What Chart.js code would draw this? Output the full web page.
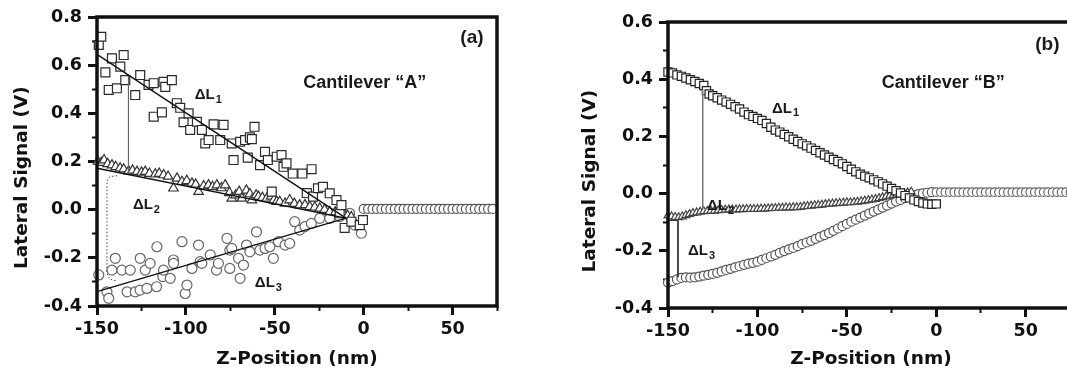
<!DOCTYPE html>
<html>
<head>
<meta charset="utf-8">
<script src="https://cdn.jsdelivr.net/npm/chart.js@4.4.0/dist/chart.umd.min.js"></script>
<style>
  html, body { margin: 0; padding: 0; background: #fff; overflow: hidden; }
  #wrap { position: relative; width: 1067px; height: 377px; overflow: hidden; }
  canvas { position: absolute; top: 0; }
</style>
</head>
<body>
<div id="wrap">
  <canvas id="chartA" width="510" height="377" style="left:0"></canvas>
  <canvas id="chartB" width="514" height="377" style="left:570px"></canvas>
</div>
<script>
// ticks
const xTicks = [-150, -125, -100, -75, -50, -25, 0, 25, 50, 75];
const aYTicks = [-0.4, -0.3, -0.2, -0.1, 0, 0.1, 0.2, 0.3, 0.4, 0.5, 0.6, 0.7, 0.8];
const bYTicks = [-0.4, -0.3, -0.2, -0.1, 0, 0.1, 0.2, 0.3, 0.4, 0.5, 0.6];

// Cantilever "A" (a): [z, signal]
const aL1 = [
  [-149.0, 0.684], [-147.6, 0.718], [-145.3, 0.570], [-143.4, 0.497], [-141.6, 0.628],
  [-138.8, 0.504], [-136.9, 0.594], [-135.0, 0.642], [-134.1, 0.538], [-128.5, 0.476],
  [-125.7, 0.559], [-121.0, 0.518], [-118.1, 0.525], [-118.1, 0.386], [-113.5, 0.404],
  [-112.6, 0.531], [-111.6, 0.510], [-107.9, 0.538], [-105.1, 0.442], [-103.2, 0.423],
  [-101.3, 0.363], [-98.5, 0.400], [-97.6, 0.331], [-93.8, 0.365], [-91.0, 0.331],
  [-89.1, 0.275], [-87.2, 0.289], [-84.4, 0.354], [-80.7, 0.289], [-78.8, 0.352],
  [-74.2, 0.275], [-73.2, 0.206], [-69.5, 0.282], [-66.7, 0.289], [-65.2, 0.216],
  [-64.0, 0.300], [-62.9, 0.293], [-61.4, 0.344], [-58.3, 0.185], [-55.5, 0.240],
  [-53.9, 0.206], [-51.7, 0.075], [-48.9, 0.220], [-46.2, 0.227], [-45.1, 0.178],
  [-43.4, 0.192], [-39.9, 0.150], [-34.5, 0.150], [-32.0, 0.069], [-29.3, 0.168],
  [-28.5, 0.054], [-25.7, 0.089], [-22.9, 0.095], [-19.1, 0.068], [-15.3, 0.040],
  [-13.5, -0.015], [-12.5, 0.019], [-10.7, -0.076], [-6.9, -0.050], [-2.2, -0.064],
  [-0.4, -0.043]
];
const aL2 = [
  [-149.5, 0.200], [-147.5, 0.195], [-146.0, 0.206], [-144.0, 0.190], [-141.6, 0.185],
  [-139.5, 0.178], [-137.0, 0.172], [-135.0, 0.168], [-132.2, 0.160], [-130.0, 0.163],
  [-127.5, 0.158], [-125.0, 0.155], [-122.9, 0.158], [-120.5, 0.150], [-117.2, 0.147],
  [-115.0, 0.150], [-112.5, 0.144], [-110.0, 0.138], [-107.0, 0.089], [-105.0, 0.130],
  [-102.2, 0.116], [-99.5, 0.120], [-96.6, 0.109], [-94.5, 0.105], [-92.9, 0.075],
  [-90.0, 0.098], [-87.3, 0.102], [-85.0, 0.095], [-82.6, 0.102], [-80.0, 0.090],
  [-77.9, 0.102], [-75.5, 0.070], [-74.2, 0.047], [-72.0, 0.060], [-70.0, 0.075],
  [-68.5, 0.047], [-66.0, 0.080], [-64.0, 0.065], [-62.9, 0.040], [-60.5, 0.060],
  [-59.2, 0.054], [-57.0, 0.050], [-54.5, 0.047], [-52.0, 0.055], [-50.5, 0.040],
  [-48.9, 0.033], [-47.2, 0.033], [-44.2, 0.026], [-41.6, 0.040], [-39.0, 0.025],
  [-36.0, 0.019], [-33.0, 0.020], [-30.3, 0.012], [-27.5, 0.010], [-24.7, 0.005],
  [-22.0, 0.000], [-19.1, -0.009], [-16.0, -0.010], [-13.5, -0.015], [-11.0, -0.020],
  [-9.0, -0.025], [-7.0, -0.030]
];
const aL3 = [
  [-149.0, -0.271], [-144.4, -0.341], [-143.4, -0.368], [-141.6, -0.251], [-139.7, -0.202],
  [-136.0, -0.251], [-133.1, -0.341], [-131.3, -0.251], [-128.5, -0.341], [-125.8, -0.334],
  [-125.7, -0.202], [-122.9, -0.251], [-121.9, -0.327], [-120.1, -0.223], [-116.5, -0.320],
  [-116.3, -0.154], [-113.0, -0.278], [-112.6, -0.251], [-108.8, -0.285], [-107.0, -0.209],
  [-106.9, -0.223], [-102.2, -0.133], [-100.4, -0.348], [-99.4, -0.313], [-96.6, -0.244],
  [-92.9, -0.147], [-92.0, -0.216], [-91.0, -0.223], [-86.3, -0.188], [-82.8, -0.251],
  [-81.7, -0.223], [-76.9, -0.119], [-75.3, -0.244], [-75.3, -0.168], [-74.2, -0.161],
  [-70.4, -0.202], [-69.5, -0.285], [-67.6, -0.230], [-65.9, -0.147], [-64.0, -0.175],
  [-60.3, -0.092], [-58.4, -0.168], [-55.5, -0.161], [-52.8, -0.154], [-50.8, -0.202],
  [-47.9, -0.133], [-44.2, -0.147], [-41.6, -0.140], [-38.8, -0.050], [-36.0, -0.085],
  [-33.0, -0.070], [-29.4, -0.057], [-24.7, -0.036], [-19.1, -0.036], [-13.5, -0.029],
  [-7.9, -0.015], [-5.0, -0.064], [-1.3, -0.098]
];
const aApproach = [
  [0, 0.003], [2.5, 0.003], [5, 0.003], [7.5, 0.003], [10, 0.003], [12.5, 0.003],
  [15, 0.003], [17.5, 0.003], [20, 0.003], [22.5, 0.003], [25, 0.003], [27.5, 0.003],
  [30, 0.003], [32.5, 0.003], [35, 0.003], [37.5, 0.003], [40, 0.003], [42.5, 0.003],
  [45, 0.003], [47.5, 0.003], [50, 0.003], [52.5, 0.003], [55, 0.003], [57.5, 0.003],
  [60, 0.003], [62.5, 0.003], [65, 0.003], [67.5, 0.003], [70, 0.003], [72.5, 0.003]
];
const aFit1 = [[-150, 0.645], [-10, -0.035]];
const aFit2 = [[-150, 0.172], [-10, -0.035]];
const aFit3 = [[-150, -0.340], [-10, -0.035]];
const aMark1 = [[-132.3, 0.556], [-132.3, 0.150]];
const aMark2 = [[-138.8, 0.141], [-142.8, 0.137], [-144.4, 0.118], [-144.4, -0.265], [-142.8, -0.288], [-138.8, -0.297]];

// Cantilever "B" (b)
const bL1 = [
  [-150, 0.425], [-147.5, 0.422], [-145, 0.415], [-142.5, 0.410], [-140, 0.404],
  [-137.5, 0.398], [-135, 0.392], [-132.5, 0.385], [-130, 0.378], [-128.5, 0.360],
  [-127, 0.348], [-125, 0.342], [-122.5, 0.335], [-120, 0.327], [-117.5, 0.320],
  [-115, 0.312], [-112.5, 0.304], [-110, 0.296], [-107.5, 0.285], [-105, 0.276],
  [-102.5, 0.270], [-100, 0.263], [-97.5, 0.256], [-95, 0.245], [-92.5, 0.232],
  [-90, 0.222], [-87.5, 0.215], [-85, 0.207], [-82.5, 0.199], [-80, 0.190],
  [-77.5, 0.182], [-75, 0.174], [-72.5, 0.167], [-70, 0.159], [-67.5, 0.151],
  [-65, 0.143], [-62.5, 0.135], [-60, 0.127], [-57.5, 0.119], [-55, 0.112],
  [-52.5, 0.104], [-50, 0.095], [-47.5, 0.085], [-45, 0.076], [-42.5, 0.068],
  [-40, 0.061], [-37.5, 0.055], [-35, 0.048], [-32.5, 0.041], [-30, 0.034],
  [-27.5, 0.026], [-25, 0.018], [-22.5, 0.010], [-20, 0.002], [-17.5, -0.007],
  [-15, -0.015], [-12.5, -0.022], [-10, -0.028], [-7.5, -0.033], [-5, -0.036],
  [-2.5, -0.037], [0, -0.036]
];
const bL2 = [
  [-150, -0.077], [-148, -0.080], [-146, -0.082], [-144, -0.083], [-142, -0.080],
  [-140, -0.076], [-138, -0.072], [-136, -0.068], [-134, -0.066], [-132, -0.064],
  [-130, -0.062], [-128, -0.061], [-126, -0.060], [-124, -0.060], [-122, -0.059],
  [-120, -0.058], [-118, -0.057], [-116, -0.056], [-114, -0.056], [-112, -0.056],
  [-110, -0.055], [-108, -0.055], [-106, -0.054], [-104, -0.054], [-102, -0.054],
  [-100, -0.054], [-98, -0.053], [-96, -0.053], [-94, -0.052], [-92, -0.051],
  [-90, -0.051], [-88, -0.050], [-86, -0.050], [-84, -0.049], [-82, -0.049],
  [-80, -0.048], [-78, -0.048], [-76, -0.047], [-74, -0.045], [-72, -0.044],
  [-70, -0.043], [-68, -0.041], [-66, -0.040], [-64, -0.039], [-62, -0.037],
  [-60, -0.036], [-58, -0.035], [-56, -0.034], [-54, -0.033], [-52, -0.032],
  [-50, -0.031], [-48, -0.031], [-46, -0.030], [-44, -0.029], [-42, -0.027],
  [-40, -0.025], [-38, -0.023], [-36, -0.021], [-34, -0.019], [-32, -0.016],
  [-30, -0.013], [-28, -0.010], [-26, -0.008], [-24, -0.005], [-22, -0.003],
  [-20, -0.001], [-18, 0.001], [-16, 0.004], [-14, 0.006]
];
const bL3 = [
  [-150, -0.311], [-147.5, -0.306], [-145, -0.300], [-142.5, -0.295], [-140, -0.293],
  [-137.5, -0.294], [-135, -0.293], [-132.5, -0.290], [-130, -0.287], [-127.5, -0.284],
  [-125, -0.281], [-122.5, -0.277], [-120, -0.272], [-117.5, -0.267], [-115, -0.263],
  [-112.5, -0.258], [-110, -0.254], [-107.5, -0.249], [-105, -0.245], [-102.5, -0.242],
  [-100, -0.238], [-97.5, -0.232], [-95, -0.226], [-92.5, -0.220], [-90, -0.214],
  [-87.5, -0.207], [-85, -0.201], [-82.5, -0.195], [-80, -0.190], [-77.5, -0.184],
  [-75, -0.177], [-72.5, -0.171], [-70, -0.165], [-67.5, -0.158], [-65, -0.151],
  [-62.5, -0.145], [-60, -0.138], [-57.5, -0.130], [-55, -0.122], [-52.5, -0.114],
  [-50, -0.106], [-47.5, -0.098], [-45, -0.091], [-42.5, -0.084], [-40, -0.077],
  [-37.5, -0.070], [-35, -0.063], [-32.5, -0.056], [-30, -0.049], [-27.5, -0.042],
  [-25, -0.035], [-22.5, -0.028], [-20, -0.022], [-17.5, -0.016], [-15, -0.011],
  [-12.5, -0.006], [-10, -0.002], [-7.5, 0.001], [-5, 0.003], [-2.5, 0.005]
];
const bApproach = [
  [0, 0.005], [2.5, 0.005], [5, 0.005], [7.5, 0.005], [10, 0.005], [12.5, 0.005],
  [15, 0.005], [17.5, 0.005], [20, 0.005], [22.5, 0.005], [25, 0.005], [27.5, 0.005],
  [30, 0.005], [32.5, 0.005], [35, 0.005], [37.5, 0.005], [40, 0.005], [42.5, 0.005],
  [45, 0.005], [47.5, 0.005], [50, 0.005], [52.5, 0.005], [55, 0.005], [57.5, 0.005],
  [60, 0.005], [62.5, 0.005], [65, 0.005], [67.5, 0.005], [70, 0.005], [72.5, 0.005],
  [75, 0.005]
];
const bMark1 = [[-130.6, 0.365], [-130.6, -0.052]];
const bMark3 = [[-150, -0.094], [-144.4, -0.094], [-144.4, -0.292]];

const pts = arr => arr.map(([x, y]) => ({ x, y }));

const tickFont = { family: 'DejaVu Sans', weight: 'bold', size: 17.5 };
const titleFont = { family: 'DejaVu Sans', weight: 'bold', size: 18.5 };

// frame round the plot area
const framePlugin = {
  id: 'frame',
  afterDatasetsDraw(chart) {
    const { ctx, chartArea: a } = chart;
    ctx.save();
    ctx.strokeStyle = '#111';
    ctx.lineWidth = 3.5;
    ctx.strokeRect(a.left, a.top, a.right - a.left, a.bottom - a.top);
    ctx.restore();
  }
};

// ΔL labels and captions, placed in data units
const notesPlugin = {
  id: 'notes',
  afterDraw(chart, args, opts) {
    const { ctx, scales } = chart;
    ctx.save();
    ctx.fillStyle = '#1a1a1a';
    ctx.textBaseline = 'middle';
    (opts.items || []).forEach(n => {
      const px = scales.x.getPixelForValue(n.x);
      const py = scales.y.getPixelForValue(n.y);
      const size = n.size || 15;
      ctx.font = 'bold ' + size + 'px "Liberation Sans", Arial, sans-serif';
      ctx.textAlign = n.align || 'left';
      ctx.fillText(n.text, px, py);
      if (n.sub) {
        const w = ctx.measureText(n.text).width;
        ctx.font = 'bold 11px "Liberation Sans", Arial, sans-serif';
        ctx.textAlign = 'left';
        ctx.fillText(n.sub, px + w + 1, py + 5);
      }
    });
    ctx.restore();
  }
};

function lineSet(data, color, width, dash) {
  return {
    data: pts(data), showLine: true, borderColor: color, borderWidth: width,
    borderDash: dash || [], pointRadius: 0, fill: false, clip: false
  };
}

function markerSet(data, style, radius, color) {
  return {
    data: pts(data), showLine: false, pointStyle: style, pointRadius: radius,
    borderColor: color, borderWidth: 1.2, backgroundColor: '#fff', clip: 6
  };
}

const isMajorX = v => v % 50 === 0;
const isMajorY = v => Math.round(v * 10) % 2 === 0;

function makeOptions(xMax, yMin, yMax, yTicks, pad, yAxisW, xAxisH, yTitlePad, notes) {
  return {
    responsive: false,
    animation: false,
    events: [],
    layout: { padding: pad },
    plugins: { legend: { display: false }, tooltip: { enabled: false }, notes: { items: notes } },
    scales: {
      x: {
        type: 'linear', min: -150, max: xMax,
        afterBuildTicks: s => { s.ticks = xTicks.map(v => ({ value: v })); },
        afterFit: s => { s.height = xAxisH; },
        ticks: {
          autoSkip: false, maxRotation: 0, padding: 4, color: '#111', font: tickFont,
          callback: v => (isMajorX(v) ? String(v) : '')
        },
        grid: {
          drawOnChartArea: false, drawTicks: true, tickLength: 9, tickColor: '#111',
          tickWidth: c => (isMajorX(c.tick.value) ? 3 : 2),
          tickBorderDash: c => (isMajorX(c.tick.value) ? [] : [5, 20]),
          tickBorderDashOffset: 0
        },
        border: { display: false },
        title: { display: true, text: 'Z-Position (nm)', color: '#111', font: titleFont, padding: { top: 0, bottom: 7 } }
      },
      y: {
        type: 'linear', min: yMin, max: yMax,
        afterBuildTicks: s => { s.ticks = yTicks.map(v => ({ value: v })); },
        afterFit: s => { s.width = yAxisW; },
        ticks: {
          autoSkip: false, padding: 6, color: '#111', font: tickFont,
          callback: v => (isMajorY(v) ? v.toFixed(1) : '')
        },
        grid: {
          drawOnChartArea: false, drawTicks: true, tickLength: 9, tickColor: '#111',
          tickWidth: c => (isMajorY(c.tick.value) ? 3 : 2),
          tickBorderDash: c => (isMajorY(c.tick.value) ? [] : [5, 20]),
          tickBorderDashOffset: c => (isMajorY(c.tick.value) ? 0 : 21)
        },
        border: { display: false },
        // trailing spaces push the centred title a little lower, as in the original
        title: { display: true, text: 'Lateral Signal (V)     ', color: '#111', font: titleFont, padding: { top: yTitlePad, bottom: 0 } }
      }
    }
  };
}

new Chart(document.getElementById('chartA'), {
  type: 'scatter',
  data: {
    datasets: [
      lineSet(aFit1, '#111', 1.4),
      lineSet(aFit2, '#111', 1.4),
      lineSet(aFit3, '#111', 1.4),
      lineSet(aMark1, '#666', 1),
      lineSet(aMark2, '#444', 1, [1.5, 2]),
      markerSet(aL1, 'rect', 6.3, '#2b2b2b'),
      markerSet(aL2, 'triangle', 5.5, '#333'),
      markerSet(aApproach, 'circle', 4.5, '#555'),
      markerSet(aL3, 'circle', 5, '#666')
    ]
  },
  options: makeOptions(75, -0.4, 0.8, aYTicks, { left: 0, right: 13, top: 17, bottom: 0 }, 97, 71, 11, [
    { x: -95, y: 0.476, text: 'ΔL', sub: '1' },
    { x: -129.8, y: 0.019, text: 'ΔL', sub: '2' },
    { x: -61.2, y: -0.305, text: 'ΔL', sub: '3' },
    { x: 0.6, y: 0.526, text: 'Cantilever “A”', size: 18, align: 'center' },
    { x: 60.9, y: 0.713, text: '(a)', size: 19, align: 'center' }
  ]),
  plugins: [framePlugin, notesPlugin]
});

new Chart(document.getElementById('chartB'), {
  type: 'scatter',
  data: {
    datasets: [
      lineSet(bMark1, '#777', 1),
      lineSet(bMark3, '#333', 1),
      markerSet(bL1, 'rect', 5.8, '#222'),
      markerSet(bApproach, 'circle', 4.2, '#666'),
      markerSet(bL2, 'triangle', 4.6, '#444'),
      markerSet(bL3, 'circle', 4.5, '#555')
    ]
  },
  options: makeOptions(77, -0.4, 0.6, bYTicks, { left: 0, right: 10, top: 22, bottom: 0 }, 98, 69, 9, [
    { x: -91.8, y: 0.298, text: 'ΔL', sub: '1' },
    { x: -128.2, y: -0.042, text: 'ΔL', sub: '2' },
    { x: -138.8, y: -0.2, text: 'ΔL', sub: '3' },
    { x: 3.9, y: 0.387, text: 'Cantilever “B”', size: 18, align: 'center' },
    { x: 62.1, y: 0.52, text: '(b)', size: 19, align: 'center' }
  ]),
  plugins: [framePlugin, notesPlugin]
});
</script>
</body>
</html>
